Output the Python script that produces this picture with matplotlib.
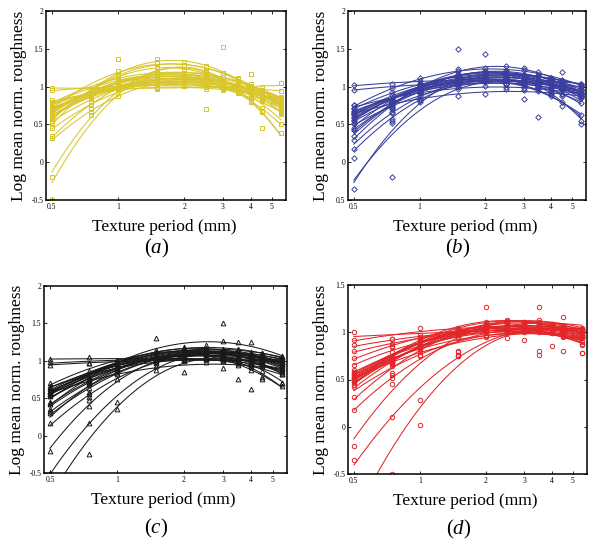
import numpy as np
import matplotlib
matplotlib.use("Agg")
import matplotlib.pyplot as plt
from matplotlib.ticker import NullLocator

plt.rcParams['font.family'] = 'serif'
plt.rcParams['font.serif'] = ['Liberation Serif']
plt.rcParams['mathtext.fontset'] = 'custom'
plt.rcParams['mathtext.rm'] = 'Liberation Serif'
plt.rcParams['mathtext.it'] = 'Liberation Serif:italic'

# texture periods (mm)
periods = [0.5, 0.75, 1, 1.5, 2, 2.5, 3, 3.5, 4, 4.5, 5.5]

# log mean normalised roughness, one row per subject
rough_a = [
    [0.72, 0.86, 1.08, 1.16, 1.12, 1.13, 1.04, 0.99, 0.97, 0.87, 0.78],
    [0.65, 0.81, 1.05, 1.10, 1.13, 1.06, 1.04, 0.95, 0.92, 0.82, 0.72],
    [0.68, 0.89, 1.06, 1.19, 1.15, 1.16, 1.07, 1.00, 0.97, 0.86, 0.75],
    [0.70, 0.89, 1.00, 1.11, 1.08, 1.09, 1.01, 0.99, 1.17, 0.89, 0.79],
    [0.74, 0.85, 1.03, 1.06, 1.10, 1.04, 1.02, 0.95, 0.93, 0.86, 0.80],
    [0.80, 0.97, 1.10, 1.21, 1.18, 1.16, 1.13, 1.05, 1.03, 0.94, 0.86],
    [0.71, 0.88, 0.97, 1.04, 1.06, 1.00, 0.98, 0.96, 0.90, 0.85, 0.80],
    [0.61, 0.79, 1.05, 1.15, 1.11, 0.70, 1.02, 0.98, 0.88, 0.81, 0.65],
    [0.66, 0.90, 1.04, 1.17, 1.14, 1.13, 1.05, 1.03, 0.95, 0.86, 0.74],
    [0.52, 0.89, 1.21, 1.36, 1.33, 1.27, 1.18, 1.11, 0.97, 0.90, 0.64],
    [0.58, 0.91, 1.15, 1.32, 1.28, 1.26, 1.15, 1.10, 1.01, 0.88, 0.71],
    [0.72, 0.92, 1.36, 1.25, 1.29, 1.22, 1.18, 1.08, 1.04, 0.93, 0.80],
    [0.62, 0.85, 1.14, 1.26, 1.22, 1.19, 1.15, 1.03, 0.98, 0.45, 0.68],
    [0.98, 0.96, 1.00, 0.98, 1.01, 0.99, 0.97, 1.00, 0.98, 0.99, 1.05],
    [0.96, 0.95, 1.02, 1.00, 1.03, 0.99, 1.01, 0.97, 0.99, 0.96, 0.94],
    [0.82, 0.87, 0.98, 0.97, 1.01, 0.97, 0.95, 0.96, 0.90, 0.91, 0.83],
    [0.78, 0.90, 0.96, 1.05, 1.02, 1.02, 0.97, 0.93, 0.93, 0.87, 0.82],
    [-0.20, 0.66, 1.02, 1.18, 1.21, 1.17, 1.04, 0.96, 0.81, 0.66, 0.38],
    [-0.50, 0.75, 1.08, 1.20, 1.16, 1.12, 0.99, 0.92, 0.80, 0.68, 0.50],
    [0.35, 0.71, 0.98, 1.16, 1.12, 1.10, 0.99, 0.92, 0.79, 0.72, 0.50],
    [0.45, 0.72, 0.96, 1.05, 1.11, 1.06, 1.06, 0.98, 0.95, 0.87, 0.77],
    [0.55, 0.79, 0.99, 1.08, 1.14, 1.09, 1.08, 1.01, 0.99, 0.91, 0.83],
    [0.32, 0.62, 0.87, 1.07, 1.06, 1.07, 1.00, 0.97, 0.88, 0.83, 0.66],
    [0.69, 0.90, 1.03, 1.14, 1.11, 1.12, 1.04, 1.01, 0.95, 0.88, 0.76],
    [0.63, 0.84, 1.00, 1.10, 1.08, 1.07, 1.00, 0.97, 0.89, 0.85, 0.72],
    [0.79, 0.92, 1.10, 1.18, 1.16, 1.15, 1.08, 1.06, 1.01, 0.95, 0.85],
    [0.64, 0.85, 1.04, 1.09, 1.13, 1.11, 1.53, 0.99, 0.97, 0.90, 0.81],
    [0.76, 0.91, 1.01, 1.04, 1.07, 1.03, 1.02, 0.96, 0.94, 0.88, 0.82],
]

rough_b = [
    [0.60, 0.81, 0.95, 1.10, 1.13, 1.11, 1.12, 1.06, 1.05, 0.99, 0.94],
    [0.66, 0.78, 0.99, 1.05, 1.11, 1.09, 1.07, 1.07, 1.02, 1.01, 0.91],
    [0.58, 0.80, 1.01, 1.13, 1.14, 1.16, 1.11, 1.09, 1.07, 1.01, 0.95],
    [0.68, 0.83, 0.94, 1.06, 1.07, 1.09, 1.05, 1.05, 1.00, 0.98, 0.92],
    [0.56, 0.81, 1.03, 1.16, 1.17, 1.19, 1.14, 1.13, 1.08, 1.06, 0.97],
    [0.45, 0.73, 0.93, 1.10, 1.12, 1.14, 1.09, 1.08, 1.02, 0.97, 0.88],
    [0.70, 0.80, 0.96, 1.01, 1.06, 1.04, 1.04, 1.00, 0.98, 0.97, 0.90],
    [0.35, 0.65, 1.03, 1.23, 1.25, 1.27, 1.22, 1.19, 1.12, 1.08, 0.91],
    [0.42, 0.74, 0.97, 1.17, 1.21, 1.19, 1.16, 1.14, 1.09, 1.02, 0.92],
    [0.17, 0.54, 0.84, 1.06, 1.09, 1.10, 1.05, 1.03, 0.96, 0.90, 0.78],
    [1.02, 1.03, 1.08, 1.07, 1.10, 1.08, 1.09, 1.06, 1.08, 1.05, 1.04],
    [0.96, 0.98, 1.04, 1.04, 1.06, 1.03, 1.05, 1.02, 1.03, 1.00, 1.01],
    [-0.35, 0.52, 0.82, 1.08, 1.13, 1.12, 1.06, 1.01, 0.90, 0.80, 0.62],
    [0.05, -0.20, 0.80, 1.06, 1.10, 1.12, 1.04, 0.99, 0.88, 0.74, 0.55],
    [0.65, 0.82, 0.97, 1.12, 1.14, 1.17, 1.13, 1.14, 1.10, 1.09, 1.02],
    [0.62, 0.79, 0.98, 1.08, 1.10, 1.13, 1.12, 1.08, 1.09, 1.04, 0.99],
    [0.75, 0.80, 0.94, 0.97, 1.01, 0.99, 0.98, 0.98, 0.95, 0.95, 0.89],
    [0.65, 0.78, 0.82, 0.88, 0.90, 0.97, 0.96, 0.94, 0.92, 0.90, 0.85],
    [0.42, 0.70, 0.92, 1.11, 1.43, 1.13, 1.10, 1.07, 1.04, 0.97, 0.87],
    [0.52, 0.72, 0.91, 1.50, 1.09, 1.11, 1.07, 1.05, 0.99, 0.96, 0.87],
    [0.76, 0.93, 1.12, 1.21, 1.20, 1.22, 1.25, 1.16, 1.11, 1.19, 0.96],
    [0.64, 0.84, 1.00, 1.14, 1.16, 1.13, 1.12, 0.60, 1.03, 0.96, 0.86],
    [0.30, 0.57, 0.87, 1.00, 1.07, 1.04, 1.02, 0.97, 0.93, 0.88, 0.50],
    [0.50, 0.67, 0.93, 1.05, 1.12, 1.10, 0.83, 1.08, 1.07, 1.02, 0.95],
    [0.72, 0.89, 1.02, 1.15, 1.18, 1.16, 1.14, 1.14, 1.11, 1.06, 1.04],
    [0.55, 0.76, 0.95, 1.04, 1.08, 1.10, 1.06, 1.05, 1.00, 0.98, 0.90],
]

rough_c = [
    [0.62, 0.75, 0.96, 1.05, 1.12, 1.11, 1.13, 1.10, 1.08, 1.06, 1.03],
    [0.60, 0.80, 0.93, 1.06, 1.10, 1.09, 1.08, 1.09, 1.05, 1.04, 0.97],
    [0.64, 0.78, 1.00, 1.09, 1.16, 1.14, 1.15, 1.11, 1.11, 1.06, 1.01],
    [0.57, 0.76, 0.90, 1.04, 1.06, 1.09, 1.06, 1.07, 1.02, 1.00, 0.96],
    [0.58, 0.81, 0.97, 1.14, 1.18, 1.17, 1.16, 1.16, 1.12, 1.09, 1.05],
    [0.66, 0.78, 0.95, 1.02, 1.07, 1.05, 1.05, 1.01, 0.62, 0.96, 0.90],
    [0.59, 0.80, 0.98, 1.10, 1.11, 1.13, 1.09, 1.08, 1.03, 1.00, 0.92],
    [0.45, 0.70, 0.93, 1.30, 1.17, 1.21, 1.27, 1.25, 1.25, 1.10, 1.06],
    [0.65, 0.79, 0.90, 1.02, 1.03, 1.06, 1.03, 0.76, 1.00, 0.98, 0.93],
    [0.56, 0.72, 0.84, 0.97, 0.85, 0.99, 0.90, 0.97, 0.95, 0.93, 0.88],
    [0.70, 0.86, 0.99, 1.12, 1.15, 1.13, 1.13, 1.09, 1.06, 1.03, 0.96],
    [0.56, 0.73, 0.96, 1.08, 1.09, 1.11, 1.51, 1.06, 1.01, 0.97, 0.89],
    [1.02, 1.05, 1.00, 1.04, 1.02, 1.03, 1.01, 1.04, 1.02, 1.03, 1.00],
    [0.98, 0.97, 1.01, 1.03, 1.01, 1.02, 1.02, 1.00, 1.01, 0.99, 0.98],
    [0.95, 0.97, 0.98, 1.01, 1.00, 1.02, 1.00, 1.01, 0.99, 1.01, 0.98],
    [0.44, 0.69, 0.89, 1.07, 1.12, 1.11, 1.12, 1.08, 1.07, 1.01, 0.94],
    [0.35, 0.58, 0.88, 1.02, 1.10, 1.09, 1.08, 1.07, 1.02, 0.98, 0.90],
    [0.33, 0.52, 0.86, 1.04, 1.10, 1.14, 1.12, 1.11, 1.07, 1.05, 0.97],
    [0.17, 0.48, 0.76, 1.00, 1.07, 1.07, 1.06, 1.04, 0.98, 0.94, 0.85],
    [-0.20, 0.40, 0.82, 0.99, 1.06, 1.05, 1.03, 0.97, 0.92, 0.78, 0.70],
    [-0.50, 0.17, 0.45, 0.93, 1.07, 1.09, 1.10, 1.05, 1.02, 0.95, 0.82],
    [-0.70, -0.25, 0.35, 0.88, 1.01, 1.04, 1.05, 0.99, 0.95, 0.86, 0.70],
    [0.60, 0.75, 0.97, 1.10, 1.13, 1.17, 1.15, 1.15, 1.11, 1.11, 1.04],
    [0.30, 0.55, 0.91, 1.05, 1.11, 1.07, 1.04, 0.95, 0.88, 0.76, 0.66],
    [0.42, 0.64, 0.91, 1.03, 1.09, 1.07, 1.06, 1.01, 0.97, 0.94, 0.83],
    [0.57, 0.74, 0.97, 1.07, 1.13, 1.12, 1.13, 1.09, 1.09, 1.04, 0.98],
    [0.54, 0.70, 0.92, 1.05, 1.08, 1.12, 1.10, 1.10, 1.06, 1.05, 0.99],
    [0.53, 0.72, 0.89, 1.04, 1.06, 1.08, 1.04, 1.03, 0.97, 0.96, 0.85],
]

rough_d = [
    [0.55, 0.73, 0.84, 0.98, 1.03, 1.03, 1.05, 1.03, 1.04, 1.01, 0.78],
    [0.53, 0.71, 0.89, 0.97, 1.04, 1.06, 1.05, 1.07, 1.04, 1.03, 0.78],
    [0.60, 0.70, 0.88, 0.95, 1.02, 1.02, 1.04, 1.02, 0.85, 1.00, 0.99],
    [0.58, 0.71, 0.91, 1.03, 1.08, 0.94, 1.09, 1.06, 1.05, 1.02, 0.97],
    [0.54, 0.74, 0.87, 1.00, 1.05, 1.04, 1.06, 1.03, 1.02, 0.80, 0.94],
    [0.56, 0.67, 0.85, 0.94, 1.01, 1.00, 1.03, 0.76, 1.02, 0.99, 0.96],
    [0.57, 0.73, 0.88, 1.03, 1.08, 1.10, 1.09, 1.11, 1.08, 1.06, 1.03],
    [0.47, 0.70, 0.92, 1.04, 1.11, 1.13, 1.11, 1.09, 1.08, 1.05, 0.99],
    [1.00, 0.93, 0.95, 1.00, 1.02, 1.05, 1.04, 1.06, 1.04, 1.05, 1.00],
    [0.92, 0.93, 1.05, 1.02, 1.06, 1.05, 1.07, 1.05, 1.06, 1.04, 1.03],
    [0.87, 0.88, 0.97, 0.99, 1.03, 1.02, 1.05, 1.03, 1.04, 1.03, 1.02],
    [0.80, 0.85, 0.94, 1.02, 1.05, 1.04, 0.92, 1.04, 1.05, 1.03, 1.01],
    [0.73, 0.84, 0.93, 1.03, 1.06, 1.08, 1.06, 1.08, 1.05, 1.06, 1.02],
    [0.65, 0.79, 0.91, 0.98, 1.03, 1.02, 1.04, 0.80, 1.00, 0.98, 0.95],
    [0.44, 0.66, 0.83, 1.01, 1.08, 1.10, 1.09, 1.27, 1.08, 1.06, 1.02],
    [0.42, 0.57, 0.80, 0.79, 1.02, 1.02, 1.04, 1.00, 0.99, 0.96, 0.90],
    [0.32, 0.55, 0.84, 0.99, 1.09, 1.12, 1.11, 1.13, 1.09, 1.07, 1.02],
    [0.18, 0.52, 0.76, 0.76, 1.04, 1.04, 1.06, 1.02, 1.00, 0.96, 0.88],
    [-0.20, 0.45, 0.75, 0.95, 1.01, 1.08, 1.07, 1.08, 1.05, 1.04, 0.96],
    [-0.35, 0.10, 0.28, 0.75, 0.95, 1.00, 1.04, 1.05, 1.06, 1.02, 0.96],
    [-0.75, -0.50, 0.02, 0.80, 0.96, 1.01, 1.05, 1.02, 1.01, 0.95, 0.87],
    [0.50, 0.72, 0.88, 1.03, 1.27, 1.08, 1.10, 1.06, 1.06, 1.02, 0.97],
    [0.52, 0.69, 0.82, 0.75, 0.99, 1.01, 1.00, 1.02, 0.99, 0.98, 0.95],
    [0.52, 0.66, 0.86, 0.99, 1.03, 1.07, 1.08, 1.09, 1.07, 1.16, 1.04],
    [0.47, 0.68, 0.85, 1.00, 1.05, 1.05, 1.07, 1.04, 1.03, 1.01, 0.94],
    [0.51, 0.70, 0.86, 0.95, 1.02, 1.04, 1.03, 1.05, 1.02, 1.03, 0.99],
    [0.49, 0.64, 0.86, 0.97, 1.05, 1.07, 1.06, 1.08, 1.05, 1.04, 1.00],
]

xtick_vals = [0.5, 1, 2, 3, 4, 5]
xtick_text = ['0.5', '1', '2', '3', '4', '5']
ytick_tall = [-0.5, 0, 0.5, 1, 1.5, 2]
ytick_short = [-0.5, 0, 0.5, 1, 1.5]

W, H = 590, 539
fig = plt.figure(figsize=(W / 100, H / 100), dpi=100)


def px_box(l, t, r, b):
    return [l / W, 1 - b / H, (r - l) / W, (b - t) / H]


# box in pixels (left, top, right, bottom), data, colour, marker,
# y ticks, y tick labels, panel tag, gap from axis to tag
panels = [
    ((46, 11, 286, 200), rough_a, '#d8c62c', 's', ytick_tall,
     ['-0.5', '0', '0.5', '1', '1.5', '2'], 'a', 48),
    ((348, 11, 586, 200), rough_b, '#3a3e9c', 'D', ytick_tall,
     ['0.5', '0', '0.5', '1', '1.5', '2'], 'b', 48),
    ((44, 286, 287, 473), rough_c, '#1a1a1a', '^', ytick_tall,
     ['-0.5', '0', '0.5', '1', '1.5', '2'], 'c', 55),
    ((348, 285, 587, 474), rough_d, '#e2262a', 'o', ytick_short,
     ['-0.5', '0', '0.5', '1', '1.5'], 'd', 55),
]

msize = {'s': 3.0, 'D': 2.8, '^': 3.4, 'o': 3.2}
logp = np.log(periods)
xfit = np.geomspace(0.5, 5.5, 120)

for box, rows, col, mk, yt, ytl, tag, tag_gap in panels:
    ax = fig.add_axes(px_box(*box))
    for vals in rows:
        coef = np.polyfit(logp, vals, 2)
        ax.plot(xfit, np.polyval(coef, np.log(xfit)), color=col, lw=0.75)
    for vals in rows:
        ax.plot(periods, vals, ls='none', marker=mk, ms=msize[mk],
                mfc='none', mec=col, mew=0.7)
    ax.set_xscale('log')
    ax.set_xlim(0.47, 5.8)
    ax.set_ylim(yt[0], yt[-1])
    ax.set_xticks(xtick_vals)
    ax.set_xticklabels(xtick_text)
    ax.xaxis.set_minor_locator(NullLocator())
    ax.set_yticks(yt)
    ax.set_yticklabels(ytl)
    ax.tick_params(direction='in', top=True, right=True, length=2.2,
                   width=0.6, labelsize=5.5, pad=2)
    for s in ax.spines.values():
        s.set_linewidth(1.1)
    l, t, r, b = box
    cx = (l + r) / 2
    fig.text((l - 27) / W, 1 - (t + b) / 2 / H, 'Log mean norm. roughness',
             rotation=90, ha='center', va='center', fontsize=12.5)
    fig.text((cx - 2) / W, 1 - (b + 27) / H, 'Texture period (mm)',
             ha='center', va='center', fontsize=12.5)
    fig.text((cx - 9) / W, 1 - (b + tag_gap) / H, r'$(\mathit{%s})$' % tag,
             ha='center', va='center', fontsize=15)

fig.savefig('out.png', dpi=100)
